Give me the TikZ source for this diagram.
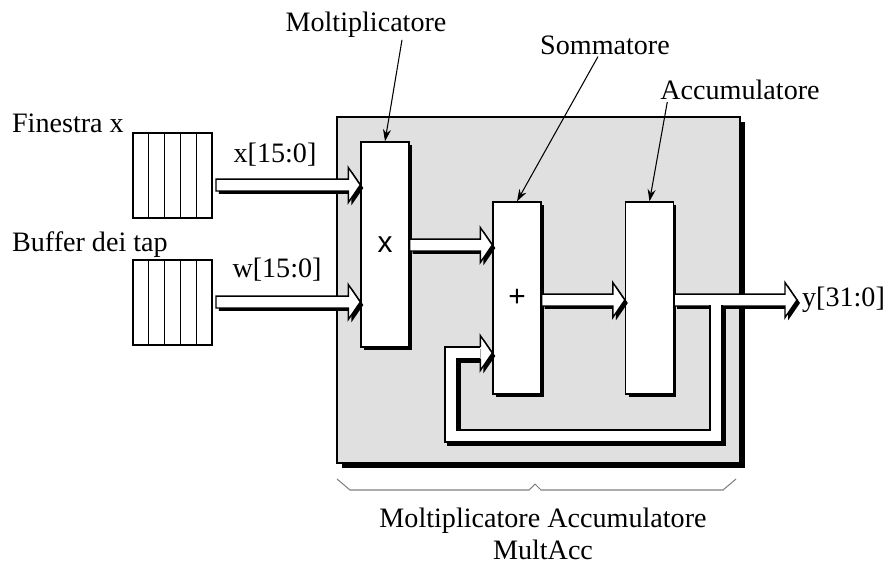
\documentclass[tikz,border=0pt]{standalone}
\usepackage{fontspec}
\setmainfont{Liberation Serif}
\newfontfamily\blkfont{Liberation Sans}
\usetikzlibrary{arrows.meta,calc,shadows}
\definecolor{boxgray}{RGB}{224,224,224}
\tikzset{
  lbl/.style={font=\fontsize{16}{18}\selectfont, inner sep=1pt},
  bigbox/.style={draw, line width=0.8pt, fill=boxgray, minimum width=8.06cm, minimum height=6.92cm,
                 drop shadow={shadow xshift=2.8pt, shadow yshift=-2.8pt, fill=black, opacity=1}},
  blk/.style={draw, line width=0.8pt, fill=white, minimum width=0.96cm, inner sep=0pt,
              font=\blkfont\fontsize{17}{18}\selectfont,
              drop shadow={shadow xshift=1.7pt, shadow yshift=-1.7pt, fill=black, opacity=1}},
  reg/.style={draw, line width=0.7pt, fill=white, minimum width=1.58cm, minimum height=1.7cm, inner sep=0pt},
  ptr/.style={-{Stealth[length=2.4mm, width=1.6mm]}, line width=0.6pt},
  busline/.style={line width=0.8pt, double=white, double distance=0.21cm},
  busshadow/.style={line width=7.55pt, transform canvas={xshift=1.7pt, yshift=-1.7pt}},
}
% hollow bus arrow, #1 start, #2 tip (same height)
\newcommand{\busarrow}[2]{%
  \fill[transform canvas={xshift=1.7pt, yshift=-1.7pt}] ($(#1)+(0,5.95)$) -- ($(#2)+(-12,5.95)$) -- ($(#2)+(-12,17.5)$)
    -- (#2) -- ($(#2)+(-12,-17.5)$) -- ($(#2)+(-12,-5.95)$) -- ($(#1)+(0,-5.95)$) -- cycle;
  \filldraw[fill=white, line width=0.8pt] ($(#1)+(0,5.95)$) -- ($(#2)+(-12,5.95)$) -- ($(#2)+(-12,17.5)$)
    -- (#2) -- ($(#2)+(-12,-17.5)$) -- ($(#2)+(-12,-5.95)$) -- ($(#1)+(0,-5.95)$) -- cycle;}
\newcommand{\bushead}[1]{%
  \fill[transform canvas={xshift=1.7pt, yshift=-1.7pt}] ($(#1)+(-12,5.95)$) -- ($(#1)+(-12,17.5)$) -- (#1)
    -- ($(#1)+(-12,-17.5)$) -- ($(#1)+(-12,-5.95)$) -- cycle;
  \fill[white] ($(#1)+(-12,5.95)$) -- ($(#1)+(-12,17.5)$) -- (#1) -- ($(#1)+(-12,-17.5)$) -- ($(#1)+(-12,-5.95)$) -- cycle;
  \draw[line width=0.8pt] ($(#1)+(-12,5.95)$) -- ($(#1)+(-12,17.5)$) -- (#1) -- ($(#1)+(-12,-17.5)$) -- ($(#1)+(-12,-5.95)$);}

\begin{document}
\begin{tikzpicture}[x=0.02cm, y=-0.02cm]
  \useasboundingbox (0,0) rectangle (891,569);
  % MAC block
  \node[bigbox] (mac) at (538.5,290) {};
  \node[blk, minimum height=4.1cm] (mult) at (385,244.5) {x};
  \node[blk, minimum height=3.84cm] (adder) at (517,298) {+};
  \node[blk, minimum height=3.84cm] (accum) at (649.5,298) {};
  % shift registers
  \node[reg] (fin) at (172.5,175.5) {};
  \node[reg] (buf) at (172.5,302.5) {};
  \foreach \r in {fin,buf}{
    \foreach \k in {1,...,4}{
      \draw[line width=0.7pt] ($(\r.south west)!\k/5!(\r.south east)$) -- ($(\r.north west)!\k/5!(\r.north east)$);}}
  % buses
  \coordinate (xs) at (216,185);  \coordinate (xe) at (xs -| mult.west);
  \coordinate (ws) at (216,302);  \coordinate (we) at (ws -| mult.west);
  \coordinate (ps) at (mult.east |- 0,245);  \coordinate (pe) at (ps -| adder.west);
  \coordinate (ss) at (adder.east |- 0,300); \coordinate (se) at (ss -| accum.west);
  \coordinate (as) at (accum.east |- 0,300); \coordinate (ye) at (797,300);
  \coordinate (fb) at (716,304.8);
  \coordinate (fe) at (adder.west |- 0,353);
  \busarrow{xs}{xe}
  \busarrow{ws}{we}
  \busarrow{ps}{pe}
  \busarrow{ss}{se}
  \busarrow{as}{ye}
  % feedback
  \draw[busshadow] (fb) |- (451,436) |- ($(fe)+(-12,0)$);
  \draw[busline] (fb) |- (451,436) |- ($(fe)+(-12,0)$);
  \bushead{fe}
  % labels
  \node[lbl, anchor=west] (finl) at (10,123) {Finestra x};
  \node[lbl, anchor=west] (bufl) at (10,245) {Buffer dei tap};
  \node[lbl] (xl) at (275,155) {x[15:0]};
  \node[lbl] (wl) at (277,270) {w[15:0]};
  \node[lbl, anchor=west] (yl) at (800,300) {y[31:0]};
  \node[lbl] (moltl) at (366,25) {Moltiplicatore};
  \node[lbl] (somml) at (605,45) {Sommatore};
  \node[lbl] (accl) at (740,90) {Accumulatore};
  \node[lbl, align=center] (macl) at (543,534) {Moltiplicatore Accumulatore\\MultAcc};
  \draw[ptr] ([xshift=0.72cm]moltl.south) -- (mult.north);
  \draw[ptr] ([xshift=-0.14cm]somml.south) -- (adder.north);
  \draw[ptr] ([xshift=0.18cm]accl.south west) -- (accum.north);
  % brace
  \draw[gray, line width=0.6pt] (337,479) -- (350,490) -- (529,490) -- (535,484) -- (541,490) -- (723,490) -- (736,479);
\end{tikzpicture}
\end{document}
